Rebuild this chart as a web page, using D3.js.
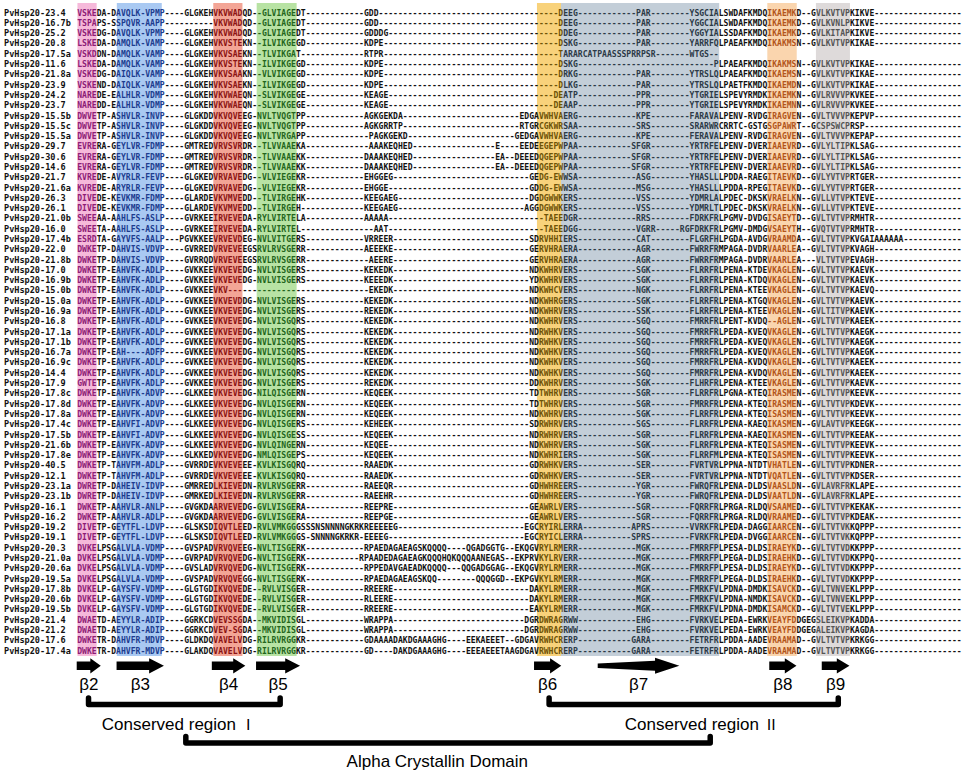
<!DOCTYPE html>
<html><head><meta charset="utf-8">
<script src="https://cdn.jsdelivr.net/npm/d3@7"></script>
<style>body{margin:0;background:#fff}</style>
</head><body><svg id="c" width="964" height="774"></svg>
<script>
// ---------- DATA ----------
const nCols = 182;
const labels = ["PvHsp20-23.4","PvHsp20-16.7b","PvHsp20-25.2","PvHsp20-20.8","PvHsp20-17.5a","PvHsp20-11.6","PvHsp20-21.8a","PvHsp20-23.9","PvHsp20-24.2","PvHsp20-23.7","PvHsp20-15.5b","PvHsp20-15.5c","PvHsp20-15.5a","PvHsp20-29.7","PvHsp20-30.6","PvHsp20-14.6","PvHsp20-21.7","PvHsp20-21.6a","PvHsp20-26.3","PvHsp20-26.1","PvHsp20-21.0b","PvHsp20-16.0","PvHsp20-17.4b","PvHsp20-22.0","PvHsp20-21.8b","PvHsp20-17.0","PvHsp20-16.9b","PvHsp20-15.0b","PvHsp20-15.0a","PvHsp20-16.9a","PvHsp20-16.8","PvHsp20-17.1a","PvHsp20-17.1b","PvHsp20-16.7a","PvHsp20-16.9c","PvHsp20-14.4","PvHsp20-17.9","PvHsp20-17.8c","PvHsp20-17.8d","PvHsp20-17.8a","PvHsp20-17.4c","PvHsp20-17.5b","PvHsp20-21.6b","PvHsp20-17.8e","PvHsp20-40.5","PvHsp20-12.1","PvHsp20-23.1a","PvHsp20-23.1b","PvHsp20-16.1","PvHsp20-16.2","PvHsp20-19.2","PvHsp20-19.1","PvHsp20-20.3","PvHsp20-21.0a","PvHsp20-20.6a","PvHsp20-19.5a","PvHsp20-17.8b","PvHsp20-20.6b","PvHsp20-19.5b","PvHsp20-21.4","PvHsp20-21.2","PvHsp20-17.6","PvHsp20-17.4a"];

// aligned residues: [alignment column, residues]; gaps between are '-'
const alignment = [
 [[0,"VSKEDA-DAVQLK-VPMP----GLGKEHVKVWADQD--GLVIAGEDT"],[59,"GDD"],[99,"DEEG"],[115,"PAR"],[126,"YSGCIALSWDAFKMDQIKAEMKD--GVLKVTVPKIKVE"]],
 [[0,"TSPAPS-SSPQVR-AAPP----------VKVWADQD--GLVIAGEDT"],[59,"GDD"],[99,"DEEG"],[115,"PAR"],[126,"YGGCIALSWDAFKMDQIKAEMKD--GVLKVNLPKIKVE"]],
 [[0,"VSKEDG-DAVQLK-VPMP----GLGKEHVKVWADQD--GLVIAGEDT"],[59,"GDDDG"],[99,"DDEG"],[115,"PAR"],[126,"YGGYIALSSDAFKMDQIKAEMKD--GVLKITAPKIKVE"]],
 [[0,"LSKEDA-DAMQLK-VAMP----GLGKEHVKVSTEKN--ILVIKGEGD"],[59,"KDPE"],[99,"DSKG"],[115,"PAR"],[126,"YARRFQLPAEAFKMDQIKAKMSN--GVLKVTVPKIKAE"]],
 [[0,"VSKDDN-DAMQLK-VAMP----GLGKEHVKVSAEKN--TLVIKGAT"],[59,"RTPR"],[99,"TARARCATPAASSSPRRPSR"],[126,"WTGS--"]],
 [[0,"LSKEDA-DAMQLK-VAMP----GLGKEHVKVSTEKN--ILVIKGEGD"],[59,"KDPE"],[99,"DSKG"],[131,"PLPAEAFKMDQIKAKMSN--GVLKVTVPKIKAE"]],
 [[0,"VSKEDG-DAIQLK-VAMP----GLGKEHVKVSAAKN--VLVIKGEGD"],[59,"KDPE"],[99,"DRKG"],[115,"PAR"],[126,"YTRSLQLPAEAFKMDQIKAEMSN--GVLKVTVPKIKAE"]],
 [[0,"VSKEND-DAIQLK-VAMP----GLGKEHVKVSAEKN--ILVIKGEGD"],[59,"KDPE"],[99,"DLKG"],[115,"PAR"],[126,"YTRSLQLPAETFKMDQIKAEMDN--GVLKVTVPKIKAE"]],
 [[0,"NAREDE-EALHLR-VDMP----GLGKEHVKVWAEQN--SLVIKGEGE"],[59,"KEAGE"],[98,"DEATP"],[115,"PPR"],[126,"YTGRIELSPEVYRMDKIKAEMKN--GVLRVVVPKVKEE"]],
 [[0,"NAREDD-EALHLR-VDMP----GLGKEHVKVWAEQN--SLVIKGEGE"],[59,"KEAGE"],[98,"DEAAP"],[115,"PPR"],[126,"YTGRIELSPEVYRMDKIKAEMNN--GVLRVVVPKVKEE"]],
 [[0,"DWVETP-ASHVLR-INVP----GLGKDDVKVQVEEG-NVLTVQGTPP"],[59,"AGKGEKDA"],[91,"EDGAVWHVAERG"],[115,"KPE"],[126,"FARAVALPENV-RVDGIRAGVEN--GVLTVVVPKEPVP"]],
 [[0,"DWVETP-ASHVLR-INVP----GLGKDDVKVQVEEG-NVLTVQGTPP"],[59,"AGKGRRTP"],[91,"RTGRCGKWRSAA"],[115,"SRS"],[126,"SRARWRCRRTC-GSTGSGPAWRT--GCSPSWCPRSP"]],
 [[0,"DWVETP-ASHVLR-INVP----GLGKDDVKVQVEEG-NVLTVRGAPP"],[60,"PAGKGEKD"],[90,"GEDGAVWHVAERG"],[115,"KPE"],[126,"FERAVALPENV-RVDGIRAGVEN--GVLTVVVPKEPAP"]],
 [[0,"EVRERA-GEYLVR-FDMP----GMTREDVRVSVRDR--TLVVAAEKA"],[60,"AAAKEQHED"],[86,"E"],[91,"EEDEEGEPWPAA"],[114,"SFGR"],[126,"YRTRFELPENV-DVERIAAEVRD--GVLYLTIPKLSAG"]],
 [[0,"EVRERA-GEYLVR-FDMP----GMTREDVRVSVRDR--TLVVAAEKK"],[59,"DAAAKEQHED"],[86,"EA--DEEEDQGEPWPAA"],[114,"SFGR"],[126,"YRTRFELPENV-DVERIAAEVRD--GVLYLTIPKLSAG"]],
 [[0,"EVRERA-GEYLVR-FDMP----GMTREDVRVSVRDR--TLVVAAEKK"],[59,"DAAAKEQHED"],[86,"EA--DEEEDQGEPWPAA"],[114,"SFGR"],[126,"YRTRFELPENV-DVERIAAEVRD--GVLYLTIPKLSAG"]],
 [[0,"KVREDE-AVYRLR-FEVP----GLGKEDVRVAVEDG--VLVIEGEKR"],[59,"EHGGEG"],[93,"GEDG-EWWSA"],[115,"ASG"],[126,"YHASLLLPDDA-RAEGITAEVKD--GVLYVTVPRTGER"]],
 [[0,"KVREDE-ARYRLR-FEVP----GLGKEDVRVAVEDG--VLVIEGEKR"],[59,"EHGGE"],[93,"GDDG-EWWSA"],[115,"MSG"],[126,"YHASLLLPDDA-RPEGITAEVKD--GVLYVTVPRTGER"]],
 [[0,"DIVEDE-KEVKMR-FDMP----GLARDEVKVMVEDD--TLVIRGEHK"],[59,"KEEGAEG"],[93,"DGDGWWKERS"],[115,"VSS"],[126,"YDMRLALPDEC-DKSKVRAELKN--GVLLVTVPKTEVE"]],
 [[0,"DIVEDE-KEVKMR-FDMP----GLARDEVKVMVEDD--TLVIRGEH"],[59,"KEEGAEG"],[92,"AGGDGWWKERS"],[115,"VSS"],[126,"YDMRLTLPDEC-DKSKVRAELKN--GVLLVTVPKTEVE"]],
 [[0,"SWEEAA-AAHLFS-ASLP----GVRKEEIRVEVEDA-RYLVIRTELA"],[59,"AAAAA"],[96,"TAEEDGR"],[115,"RRS"],[126,"FDRKFRLPGMV-DVDGISAEYTD--GVLTVTVPRMHTR"]],
 [[0,"SWEETA-AAHLFS-ASLP----GVRKEEIRVEVEDA-RYLVIRTEL"],[61,"AAT"],[96,"TAEEDGG"],[115,"VGRR-----RGFDRKFRLPGMV-DMDGVSAEYTH--GVQTVTVPRMHTR"]],
 [[0,"ESRDTA-GAYVFS-AALP---PGVKKEEVRVEVDEG-NVLVITGERS"],[59,"VRREER"],[93,"SDRVHHIERS"],[115,"CAT"],[126,"FLGRFHLPGDA-AVDGVRAAMDA--GVLTVTVPKVGAIAAAAAA"]],
 [[0,"DWKETP-DAHVIS-VDVP----GVRREDVRVEVEEGSRVLRVSGERR"],[59,"AEEEKE"],[93,"GERVHRAERA"],[115,"AGR"],[126,"FWRRFRMPAGA-DVDRVAARLEA--GVLTVTVPKVAGH"]],
 [[0,"DWKETP-DAHVIS-VDVP----GVRRQDVRVEVEEGSRVLRVSGERR"],[60,"AEERE"],[93,"GERVHRAERA"],[115,"AGR"],[126,"FWRRFRMPAGA-DVDRVAARLEA---VLTVTVPEVAGH"]],
 [[0,"DWKETP-EAHVFK-ADLP----GVKKEEVKVEVEDG-NVLVISGERS"],[59,"KEKEDK"],[93,"NDKWHRVERS"],[115,"SGK"],[126,"FLRRFRLPENA-KTDEVKAGLEN--GVLTVTVPKAEVK"]],
 [[0,"DWKETP-EAHVFK-ADLP----GVKKEEVKVEVEDG-NVLVISGERS"],[59,"KEEEDK"],[93,"YDKWHRVERS"],[115,"SGK"],[126,"FLRRFRLPENA-KTDQVKAGLEN--GVLTVTVPKAEVK"]],
 [[0,"DWKETP-EAHVFK-ADLP----GVKKEEVKV"],[60,"EKEDK"],[93,"NDKWHCVERS"],[115,"NGK"],[126,"FLRRFRLPENA-KTEEVKAGLEN--GVLTVTVPKAEVQ"]],
 [[0,"DWKETP-EAHVFK-ADLP----GVKKEEVKVEVDDG-NVLVISGERS"],[59,"KEKEDK"],[93,"NDKWHRGERS"],[115,"SGK"],[126,"FLRRFRLPENA-KTGQVKAGLEN--GVLTVTVPKAEVK"]],
 [[0,"DWKETP-EAHVFK-ADLP----GVKKEEVKVEVEDG-NVLVISGERS"],[59,"REKEDK"],[93,"NDKWHRVERS"],[115,"SSK"],[126,"FLRRFRLPENA-KTEEVKAGLEN--GVLTITVPKAEVK"]],
 [[0,"DWKETP-EAHVFK-ADLP----GVKKEEVKVEVEDG-NVLVISGQRS"],[59,"KEKEDK"],[93,"NDKWHRVERS"],[115,"SGQ"],[126,"FMRRFRLPENT-KVDQ--AGLEN--GVLTVTVPKAEEK"]],
 [[0,"DWKETP-EAHVFK-ADLP----GVKKEEVKVEVEDG-NVLVISGQRS"],[59,"KEKEDK"],[93,"NDRWHKVERS"],[115,"SGQ"],[126,"FMRRFRLPEDA-KVEQVKAGLEN--GVLTVTVPKAEGK"]],
 [[0,"DWKETP-EAHVFK-ADLP----GVKKEEVKVEVEDG-NVLVISGQRS"],[59,"KEKEDK"],[93,"NDRWHKVERS"],[115,"SGQ"],[126,"FMRRFRLPEDA-KVEQVKAGLEN--GVLTVTVPKAEGK"]],
 [[0,"DWKETP-EAH----ADFP----GVKKEEVKVEVEDG-NVLVISGQRS"],[59,"KEKEDK"],[93,"NDKWHKVERS"],[115,"SGQ"],[126,"FMRRFRLPEDA-KVEQVKAGLEN--GVLTVTVPKAEGK"]],
 [[0,"DWKETP-EAHVFK-ADLP----GVKKEEVKVEVEDG-NVLVISGQRS"],[59,"KEKEDK"],[93,"NDKWHKVERS"],[115,"SGQ"],[126,"FMRRFRLPENA-KVDQVKAGLEN--GVLTVTVPKAEEK"]],
 [[0,"DWKETP-EAHVFK-ADLP----GVKKEEVKVEVEDG-NVLVISGQRS"],[59,"KEKEDK"],[93,"NDKWHKVERS"],[115,"SGQ"],[126,"FMRRFRLPENA-KVDQVKAGLEN--GVLTVTVPKAEEK"]],
 [[0,"GWTETP-EAHVFK-ADLP----GVKKEEVKVEVEDG-NVLVISGERS"],[59,"REKEDK"],[93,"DDKWHRVERS"],[115,"SGK"],[126,"FLHRFRLPENA-KTEEVKAGLEN--GVLTVTVPKAEVK"]],
 [[0,"DWKETP-EAHVFK-ADVP----GLKKEEVKVEVEDG-NILQISGERN"],[59,"KEQEEK"],[93,"TDTWHRVERS"],[115,"SGR"],[126,"FLRRFRLPGNA-KTEQIRASMEN--GVLTVTVPKEEVK"]],
 [[0,"DWKETP-EAHVFK-ADVP----GLKKEEVKVEVEDG-NVLQISGERN"],[59,"KEQEEK"],[93,"TDTWHRVERS"],[115,"SGR"],[126,"FMRRFRLPENA-KTEQIRASMEN--GVLTVTVPKDEVK"]],
 [[0,"DWKETP-EAHVFK-ADVP----GLKKEEVKVEVEDG-NVLQISGERN"],[59,"KEQEEK"],[93,"NDKWHRVERS"],[115,"SGK"],[126,"FLRRFRLPENA-KTEQISASMEN--GVLTVTVPKEEVK"]],
 [[0,"DWKETP-EAHVFI-ADVP----GLKKEEVKVEVEDG-NVLQISGERS"],[59,"KEHEEK"],[93,"SDRWHRVERS"],[115,"SGS"],[126,"FLRRFRLPENA-KAEQIKASMEN--GVLAVTVPKEEGK"]],
 [[0,"DWKETP-EAHVFI-ADVP----GLKKEEVKVEVEDG-NVLQISGESS"],[59,"KEQEEK"],[93,"NDRWHRVERS"],[115,"SGR"],[126,"FLRRFRLPENA-KAEQIKASMEN--GVLTVTVPKEEAK"]],
 [[0,"DWKETP-EAHVFK-ADVP----GLKKEEVKVEVEDG-NVLQINGERN"],[59,"KEQEE"],[93,"NDKWHRVERS"],[115,"SGK"],[126,"FLRRFRLPENA-KTEQISASMEN--GVLTVTVPKEEVK"]],
 [[0,"DWKETP-EAHVFK-ADVP----GLKKEDVKVEVEDG-NMLQISGEPS"],[59,"KEQEEK"],[93,"NDKWHRIERS"],[115,"SGK"],[126,"FLRRFMLPENA-KTEQISASMEN--GVLTVTVPKEEVK"]],
 [[0,"DWKETP-TAHVFM-ADLP----GVRRDEVKVEVEEE-KVLKISGQRQ"],[59,"RAAEDK"],[93,"GDRWHKVERS"],[115,"SER"],[126,"FVRTVRLPPNA-NTDTVHATLEN--GVLTVTVPKDNER"]],
 [[0,"DWKETP-TAHVFM-ADLP----GVRRDEVKVEVEEE-KVLKISGQRQ"],[59,"RAAEDK"],[93,"GDRWHKVERS"],[115,"SER"],[126,"FVRTVRLPPNA-NTDTVQATLEN--GVLTVTVPKDSER"]],
 [[0,"DWRETP-DAHEIV-IDVP----GMRREDLKIEVEDN-RVLRVSGERR"],[59,"RAEEQR"],[93,"GDHWHREERS"],[115,"YGR"],[126,"FWRQFRLPENA-DLDSVAASLDN--GVLAVRFRKLAPE"]],
 [[0,"DWRETP-DAHEIV-IDVP----GMRKEDLKIEVEDN-RVLRVSGERR"],[59,"RAEEHR"],[93,"GDHWHREERS"],[115,"YGR"],[126,"FWRQFRLPENA-DLDSVAATLDN--GVLAVRFRKLAPE"]],
 [[0,"DWKETP-AAHVLR-ANLP----GVGKDAARVEVEDG-GVLVISGERA"],[59,"REEPRE"],[93,"GEAWRLVERS"],[115,"SGR"],[126,"FQRRFRLPRGA-RLDQVSAAMED--GVLTVTVPKEKAK"]],
 [[0,"DWKETP-AAHVLR-ADLP----GVGKDAARVEVEDG-GVLVISGERA"],[59,"REEPGE"],[93,"GEAWRLVERS"],[115,"SGR"],[126,"FQRRFRLPRGA-RLDQVRAAMED--GVLTVTVPKDEAK"]],
 [[0,"DIVETP-GEYTFL-LDVP----GLSKSDIQVTLEED-RVLVMKGGGSSSNSNNNNGKRKREEEEEG"],[92,"EGCRYIRLERRA"],[114,"APRS"],[126,"VVRKFRLPEDA-DAGGIAARCEN--GVLTVTVKKQPPP"]],
 [[0,"DIVETP-GEYTFL-LDVP----GLSKSDIQVTLEED-RVLVMKGGGS-SNNNNGKRKR-EEEEG"],[92,"EGCRYICLERRA"],[114,"SPRS"],[126,"FVRKFRLPEDA-DVGGIAARCEN--GVLTVTVKKQPPP"]],
 [[0,"DVKELPSGALVLA-VDMP----GVSPADVRVQVEEG-NVLTISGERK"],[59,"RPAEDAGAEAGSKQQQQ----QGADGGTG--EKQGVRYLRMERR"],[115,"MGK"],[126,"FMRRFPLPESA-DLDSIRAEYKD--GVLTVTVDKKPPP"]],
 [[0,"DVKELPSGALVLA-VDMP----GVRPADVRVQVEDG-NVLTISGERK"],[58,"RPAADEDAGAEAGKQQQHQKQQQAANEGAS--EKPRVKYLRVERR"],[115,"MGK"],[126,"FMRRFPLPEGA-DLDSIRAEHKD--GVLTVTVDKKPPQ"]],
 [[0,"DVKELPSGALVLA-VDMP----GVSLADVRVQVEDG-NVLTISGERK"],[59,"RPPEDAVGAEADKQQQQ---QQGADGGAG--EKQGVRYLRMERR"],[115,"MGK"],[126,"FMRRFPLPESA-DLDSIRAEYKD--GVLTVTVDKKPPP"]],
 [[0,"DVKELPSGALVLA-VDMP----GVSPADVRVQVEGG-NVLTISGERK"],[59,"RPAEDAGAEAGSKQQ--------QQQGGD--EKPGVKYLRMERR"],[115,"MGK"],[126,"FMRRFPLPEGA-DLDSIRAEHKD--GVLTVTVDKKPPP"]],
 [[0,"DVKELP-GAYSFV-VDMP----GLGTGDIKVQVEDE--RVLVISGER"],[59,"RREERE"],[93,"DAKYLRMERR"],[115,"MGK"],[126,"FMRKFVLPDNA-DMDKISAVCKD--GVLTVNVEKLPPP"]],
 [[0,"DVKELP-GAYSFV-VDMP----GLGTGDIKVQVEDE--RVLVISGER"],[59,"RLEERE"],[93,"DAKYLRMERR"],[115,"MGK"],[126,"FMRKFVLPDNA-NMDKISAVCKD--GVLTVNVEKLPPP"]],
 [[0,"DVKELP-GAYSFV-VDMP----GLGTGDIKVQVEDE--RVLVISGER"],[59,"RREERE"],[93,"EAKYLRMERR"],[115,"MGK"],[126,"FMRKFVLPDNA-DMDKISAMCKD--GVLTVTVEKLPPP"]],
 [[0,"DWAETD-AEYYLR-ADIP----GGRKCDVEVSSGDA--MKVIDISGL"],[59,"WRAPPA"],[92,"DGRDWRAGRWW"],[115,"EHG"],[126,"FVRKVELPEDA-EWRKVEAYFDDGEGSLEIKVPKADDA"]],
 [[0,"DWAETD-AEYYLR-ADIP----GGRKCDVEV-SGDA--MKVIDISGL"],[59,"WRAPPA"],[92,"DGRDWRAGRWW"],[115,"EHG"],[126,"FVRKVELPEDA-EWRKVEAYFDDGEGALEIKVPKAGDA"]],
 [[0,"DWKETR-DAHVFR-MDVP----GLDKDQVAVELVDG-RILRVRGGKR"],[59,"GDAAAADAKDGAAAGHG----EEKAEEET--GDGAVRWHCRERP"],[114,"GARA"],[126,"FETRFRLPDDA-AADEVRAAMAD--GVLTVTVPKRKGG"]],
 [[0,"DWKETR-DAHVFR-MDVP----GLAKDQVAVELVDG-RILRVRGGKR"],[59,"GD----DAKDGAAAGHG----EEEAEEETAAGDGAVRWHCRERP"],[114,"GARA"],[126,"FETRFRLPDDA-AADEVRAAMAD--GVLTVTVPKRKGG"]]
];
const openEnded = ["PvHsp20-17.5a"];   // rows whose alignment stops (no trailing gaps)

// highlighted blocks: box extent and residue columns (alignment columns)
const regions = [
 {name:"pink",  box:[0.05,4.0],   cols:[0,3]},
 {name:"blue",  box:[8.15,17.4],  cols:[8,17]},
 {name:"red",   box:[28.0,34.0],  cols:[28,33]},
 {name:"green", box:[36.93,45.15],cols:[37,44]},
 {name:"amber", box:[94.6,99.55], cols:[95,99]},
 {name:"slate", box:[99.55,132.1],cols:[100,131]},
 {name:"peach", box:[142.0,148.05],cols:[142,147]},
 {name:"gray",  box:[152.0,159.0],cols:[152,158]}
];
// beta strands (alignment columns: tail, head start, tip)
const strands = [
 {label:"β2", from:-0.1, head:2.7,  to:4.85},
 {label:"β3", from:8.1,  head:14.8, to:17.85},
 {label:"β4", from:27.7, head:32.1, to:34.6},
 {label:"β5", from:36.8, head:42.8, to:45.85},
 {label:"β6", from:94.0, head:97.3, to:99.6},
 {label:"β7", from:107.1,head:118.9,to:123.9, taper:true},
 {label:"β8", from:142.4,head:145.6,to:148.0},
 {label:"β9", from:153.2,head:156.3,to:158.9}
];
const brackets = [
 {label:"Conserved region ", num:"Ⅰ", from:2.33, to:41.76, center:20.9, level:0},
 {label:"Conserved region ", num:"Ⅱ", from:97.1, to:156.6, center:128.5, level:0},
 {label:"Alpha Crystallin Domain", num:"", from:22.35, to:130.25, center:74.1, level:1}
];

// ---------- STYLE ----------
const boxFill = {pink:"#F6B9DA",blue:"#A9C9F2",red:"#F3A596",green:"#B8E3A4",amber:"#F8D27B",slate:"#C3CED8",peach:"#FAD5AE",gray:"#DEDADA"};
const inkColor = {pink:"#8E1C76",blue:"#1D3C8F",red:"#8C1414",green:"#24661C",amber:"#6E5306",slate:"#2C3A47",peach:"#B3551A",gray:"#555555"};
const defaultInk = "#111";
const cw = 4.86;
const seqFont = "'DejaVu Sans Mono',monospace";
const seqSize = cw/0.602;          // natural advance = one alignment column
const labSize = 5.15/0.602;

const svg = d3.select("#c");
svg.append("rect").attr("width",964).attr("height",774).attr("fill","#fff");

const x = d3.scaleLinear().domain([0,nCols]).range([77.2, 77.2 + nCols*cw]);
const y = d3.scalePoint().domain(d3.range(labels.length)).range([12.5, 650.5]);

// boxes
svg.append("g").selectAll("rect").data(regions).join("rect")
  .attr("x", d=>x(d.box[0])).attr("width", d=>x(d.box[1])-x(d.box[0]))
  .attr("y", 3).attr("height", 653)
  .attr("fill", d=>boxFill[d.name]);

// build aligned strings
function buildRow(segs, open){
  const arr = new Array(nCols).fill("-");
  let last = 0;
  segs.forEach(([c,s])=>{ for(let i=0;i<s.length;i++){ if(c+i<nCols) arr[c+i]=s[i]; } last = Math.max(last,c+s.length); });
  if(open) for(let i=last;i<nCols;i++) arr[i]=" ";
  return arr.join("").replace(/\s+$/,"");
}
const rows = alignment.map((segs,i)=>buildRow(segs, openEnded.includes(labels[i])));

// colour breakpoints
const bps = new Set([0,nCols]);
regions.forEach(r=>{bps.add(r.cols[0]); bps.add(r.cols[1]+1);});
const cuts = Array.from(bps).sort((a,b)=>a-b);
function regionAt(c){ return regions.find(r=>c>=r.cols[0] && c<=r.cols[1]); }

const gSeq = svg.append("g").attr("font-family", seqFont).attr("font-size", seqSize).attr("font-weight","bold");
rows.forEach((str,i)=>{
  const t = gSeq.append("text").attr("x", x(0)).attr("y", y(i)+3.1)
    .attr("textLength", str.length*cw).attr("lengthAdjust","spacingAndGlyphs")
    .style("white-space","pre");
  for(let k=0;k<cuts.length-1;k++){
    const a=cuts[k], b=cuts[k+1];
    const piece = str.slice(a,b);
    if(!piece.length) continue;
    const reg = regionAt(a);
    t.append("tspan").attr("fill", reg ? inkColor[reg.name] : defaultInk).text(piece);
  }
});

// labels
svg.append("g").attr("font-family", seqFont).attr("font-size", labSize).attr("font-weight","bold")
  .selectAll("text").data(labels).join("text")
  .attr("x", 4).attr("y", (d,i)=>y(i)+3.1)
  .attr("fill", defaultInk).text(d=>d);

// strands
const cyA = 665.8;
function arrowPath(d){
  const x0=x(d.from), xh=x(d.head), x1=x(d.to);
  const st = d.taper ? 2.2 : 4.2, sh = d.taper ? 5 : 4.2, hh = d.taper ? 8 : 7.6;
  return `M${x0},${cyA-st}L${xh},${cyA-sh}L${xh},${cyA-hh}L${x1},${cyA}L${xh},${cyA+hh}L${xh},${cyA+sh}L${x0},${cyA+st}Z`;
}
const gS = svg.append("g");
gS.selectAll("path").data(strands).join("path").attr("d", arrowPath).attr("fill","#000");
gS.selectAll("text").data(strands).join("text")
  .attr("x", d=>x((d.from+d.to)/2)).attr("y", 690)
  .attr("text-anchor","middle").attr("font-family","'Liberation Sans',Arial,sans-serif")
  .attr("font-size",17).attr("fill","#000").text(d=>d.label);

// brackets
const barY = [704.5, 743], tick = 6.5;
const gB = svg.append("g");
gB.selectAll("path").data(brackets).join("path")
  .attr("d", d=>{const yb=barY[d.level]; return `M${x(d.from)},${yb-tick}L${x(d.from)},${yb}L${x(d.to)},${yb}L${x(d.to)},${yb-tick}`;})
  .attr("fill","none").attr("stroke","#000").attr("stroke-width",5.5)
  .attr("stroke-linecap","round").attr("stroke-linejoin","round");
const lt = gB.selectAll("text").data(brackets).join("text")
  .attr("x", d=>x(d.center)).attr("y", d=>d.level===0?729.5:766.5)
  .attr("text-anchor","middle").attr("font-family","'Liberation Sans',Arial,sans-serif")
  .attr("font-size",17).attr("fill","#000");
lt.append("tspan").text(d=>d.label);
lt.append("tspan").attr("font-family","'Noto Sans CJK SC',sans-serif").attr("font-size",15).text(d=>d.num);
</script>
</body></html>
